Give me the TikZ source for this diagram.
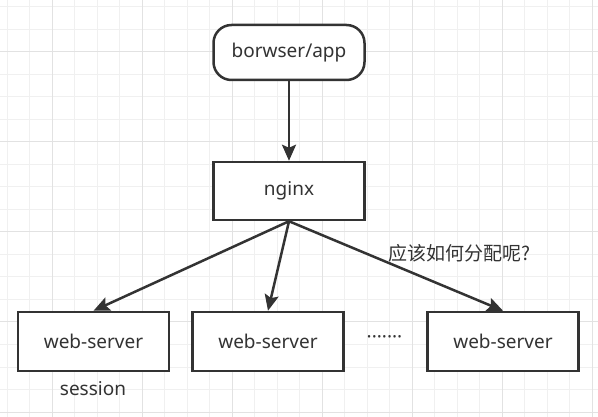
\documentclass[tikz,border=0pt]{standalone}
\usepackage{fontspec}
\setmainfont{Noto Sans}
\newfontfamily\cjk{Noto Sans CJK SC}
\usetikzlibrary{arrows.meta}
\definecolor{linec}{HTML}{333333}
\definecolor{gridminor}{HTML}{F0F0F0}
\definecolor{gridmajor}{HTML}{E2E2E2}
\tikzset{
  box/.style={draw=linec, line width=2.5pt, fill=white, minimum width=151pt, minimum height=58pt, inner sep=0pt, font=\fontsize{19}{22}\selectfont, text=linec},
  pill/.style={box, rounded corners=18pt, minimum height=55pt},
  conn/.style={draw=linec, line width=2.5pt, -{Stealth[length=16pt,width=14pt,inset=3pt]}},
  lbl/.style={font=\fontsize{19}{22}\selectfont, text=linec, inner sep=0pt}
}
\begin{document}
\begin{tikzpicture}[x=1pt,y=-1pt]
\useasboundingbox (0,0) rectangle (598,417);
\fill[white] (0,0) rectangle (598,417);
\foreach \i in {0,...,26} {
  \draw[gridminor, line width=1pt] ({7+22.5*\i},0) -- ({7+22.5*\i},417);
}
\foreach \i in {0,...,18} {
  \draw[gridminor, line width=1pt] (0,{7+22.5*\i}) -- (598,{7+22.5*\i});
}
\foreach \i in {0,...,6} {
  \draw[gridmajor, line width=1pt] ({52+90*\i},0) -- ({52+90*\i},417);
}
\foreach \i in {0,...,4} {
  \draw[gridmajor, line width=1pt] (0,{52+90*\i}) -- (598,{52+90*\i});
}
\node[pill] (app) at (289,52.5) {borwser/app};
\node[box] (nginx) at (289,191) {nginx};
\node[box, minimum height=59pt] (ws1) at (93.5,341.5) {web-server};
\node[box, minimum height=59pt] (ws2) at (268,341.5) {web-server};
\node[box, minimum height=59pt] (ws3) at (503,341.5) {web-server};
\node[lbl] (dots) at (384.5,340) {·······};
\node[lbl] (q) at (460,253) {\cjk 应该如何分配呢?};
\node[lbl] (sess) at (93,389) {session};
\draw[conn] (app.south) -- (nginx.north);
\draw[conn] (nginx.south) -- (ws1.north);
\draw[conn] (nginx.south) -- (ws2.north);
\draw[conn] (nginx.south) -- (ws3.north);
\end{tikzpicture}
\end{document}
